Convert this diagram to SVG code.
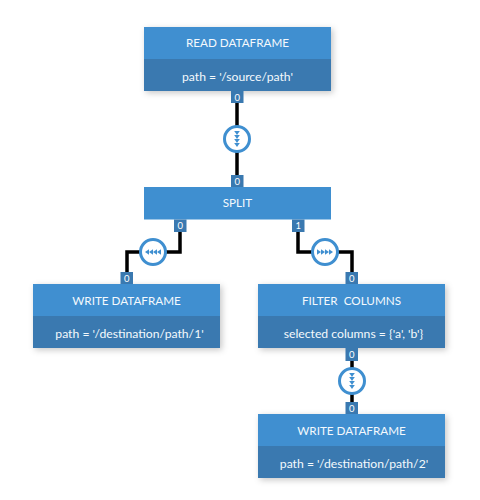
<svg xmlns="http://www.w3.org/2000/svg" width="480" height="500" viewBox="0 0 480 500">
<defs>
<filter id="sh" x="-10%" y="-15%" width="120%" height="135%"><feDropShadow dx="2" dy="2" stdDeviation="3" flood-color="#000" flood-opacity="0.22"/></filter>
<polygon id="tri" points="-2.8,-2 2.8,-2 0,2" class="tri"/>
<g id="chev"><use href="#tri" y="-6"/><use href="#tri" y="-2"/><use href="#tri" y="2"/><use href="#tri" y="6"/></g>
</defs>
<style>
.head{fill:#3f8fd0}
.body{fill:#3a79b0}
.port{fill:#3a79b0}
.t,.b{font-family:"Lato","Liberation Sans",sans-serif;fill:#f4f9fd;text-anchor:middle}
.t{font-size:11.7px}
.b{font-size:12.2px}
.p{font-family:"Lato","Liberation Sans",sans-serif;font-size:9.5px;fill:#fff;text-anchor:middle}
.wire{fill:none;stroke:#000;stroke-width:3.500}
.ring{fill:#fff;stroke:#3f8fd0;stroke-width:3}
.tri{fill:#3f8fd0}
</style>
<g id="connectors">
<path class="wire" d="M237 103V175"/>
<path class="wire" d="M180 232V252H127V272"/>
<path class="wire" d="M298 232V252H352V272"/>
<path class="wire" d="M352 361V402"/>
<circle class="ring" cx="237" cy="139" r="12.500"/><use href="#chev" x="237" y="139"/>
<circle class="ring" cx="153" cy="252" r="12.500"/><use href="#chev" transform="translate(153 252) rotate(90)"/>
<circle class="ring" cx="325" cy="252" r="12.500"/><use href="#chev" transform="translate(325 252) rotate(-90)"/>
<circle class="ring" cx="352" cy="381" r="12.500"/><use href="#chev" x="352" y="381"/>
</g>
<g id="read">
<rect class="head" x="144" y="27" width="187" height="64" filter="url(#sh)"/>
<rect class="body" x="144" y="59" width="187" height="32"/>
<text class="t" x="237.500" y="47">READ DATAFRAME</text>
<text class="b" x="237.500" y="80.500">path = '/source/path'</text>
<rect class="port" x="231" y="91" width="12.500" height="12"/><text class="p" x="237.200" y="100.500">0</text>
</g>
<g id="split">
<rect class="head" x="144" y="187" width="187" height="32.500"/>
<text class="t" x="237.500" y="207">SPLIT</text>
<rect class="port" x="231" y="175" width="12.500" height="12"/><text class="p" x="237.200" y="184.500">0</text>
<rect class="port" x="174" y="219.500" width="12.500" height="12.500"/><text class="p" x="180.200" y="229">0</text>
<rect class="port" x="292" y="219.500" width="12.500" height="12.500"/><text class="p" x="298.200" y="229">1</text>
</g>
<g id="write1">
<rect class="head" x="33" y="284" width="187" height="64" filter="url(#sh)"/>
<rect class="body" x="33" y="316" width="187" height="32"/>
<text class="t" x="126.500" y="304.500">WRITE DATAFRAME</text>
<text class="b" x="129.500" y="337.500">path = '/destination/path/1'</text>
<rect class="port" x="120.500" y="272" width="12.500" height="12"/><text class="p" x="126.700" y="281.500">0</text>
</g>
<g id="filter">
<rect class="head" x="258" y="284" width="187" height="64" filter="url(#sh)"/>
<rect class="body" x="258" y="316" width="187" height="32"/>
<text class="t" x="351.500" y="304.500" xml:space="preserve">FILTER  COLUMNS</text>
<text class="b" x="353.500" y="337.500">selected columns = {'a', 'b'}</text>
<rect class="port" x="345.500" y="272" width="12.500" height="12"/><text class="p" x="351.700" y="281.500">0</text>
<rect class="port" x="345.500" y="348" width="12.500" height="13"/><text class="p" x="351.700" y="358">0</text>
</g>
<g id="write2">
<rect class="head" x="258" y="414" width="187" height="64" filter="url(#sh)"/>
<rect class="body" x="258" y="446" width="187" height="32"/>
<text class="t" x="351.500" y="434.500">WRITE DATAFRAME</text>
<text class="b" x="354" y="467.500">path = '/destination/path/2'</text>
<rect class="port" x="345.500" y="402" width="12.500" height="12"/><text class="p" x="351.700" y="411.500">0</text>
</g>
</svg>
